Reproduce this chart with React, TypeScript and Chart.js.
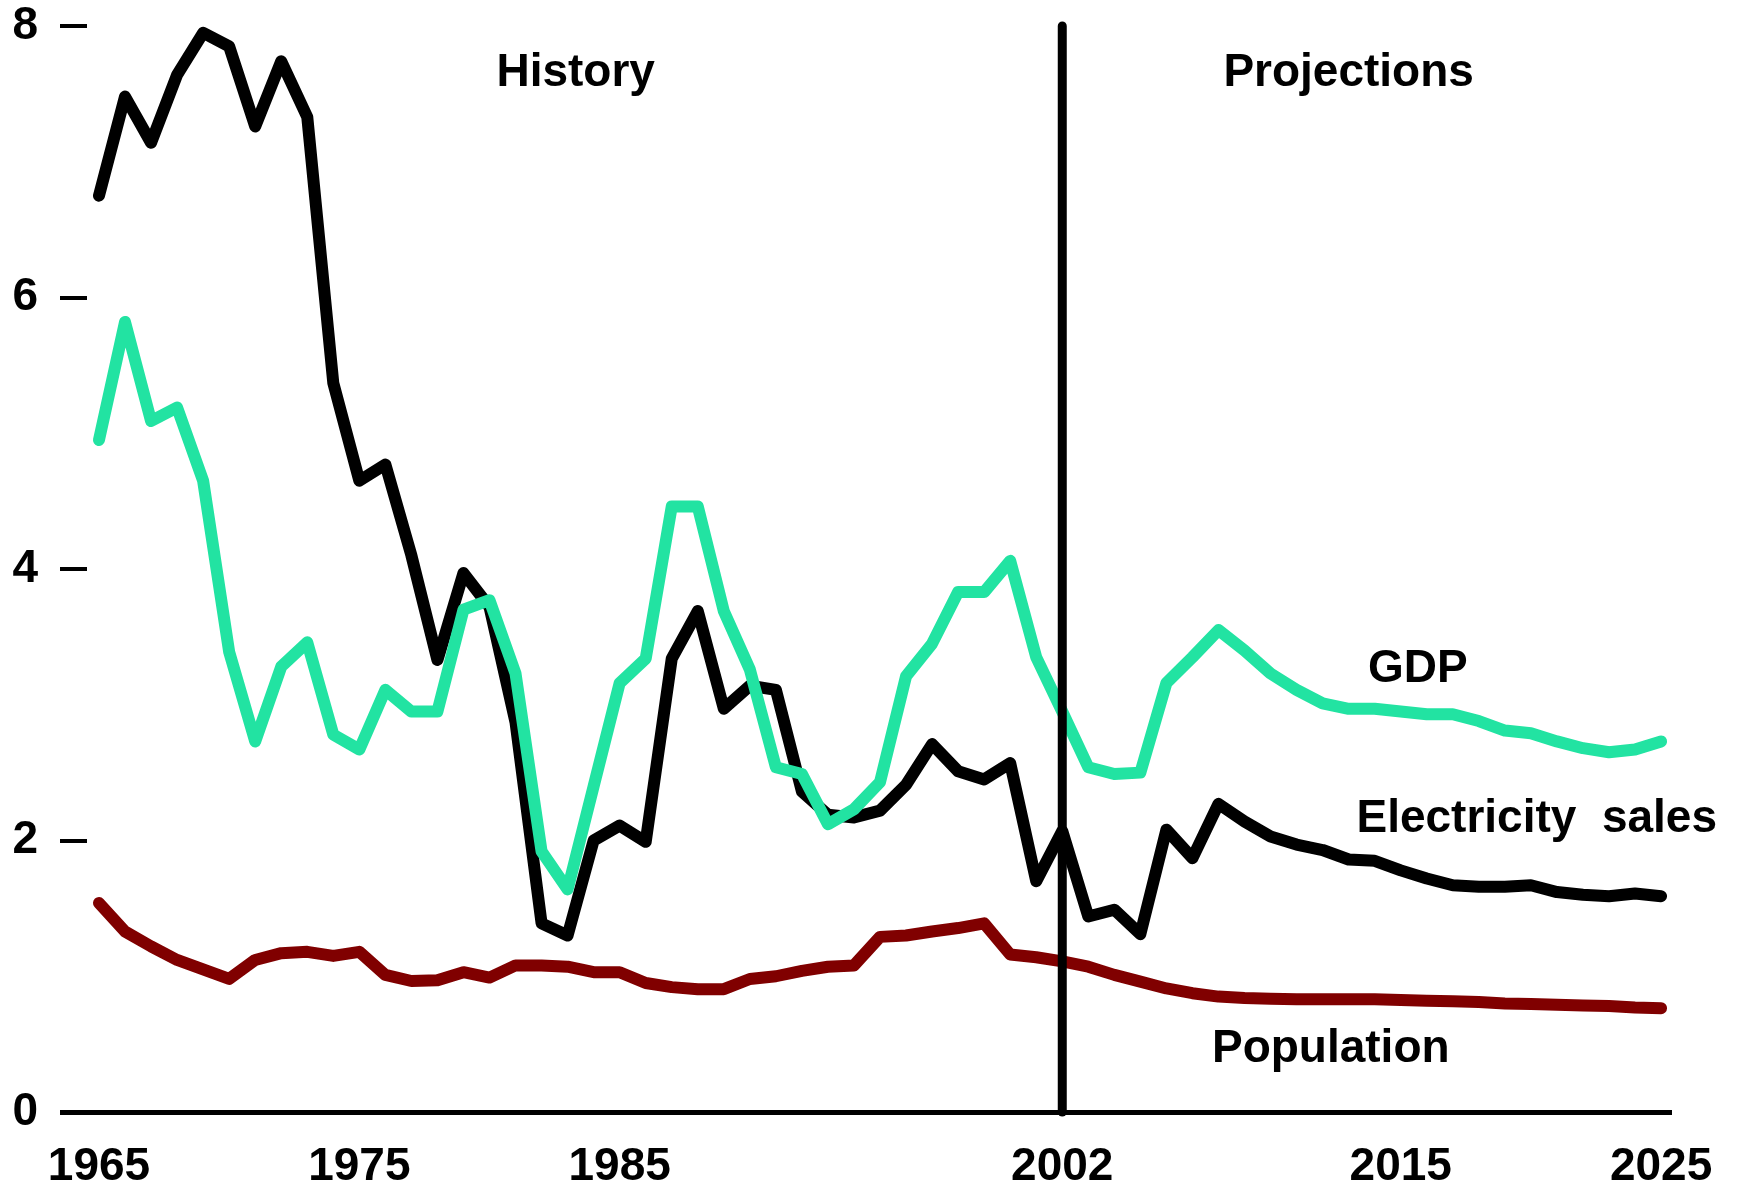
import React, { useEffect, useRef } from "react";
import { Chart, registerables } from "chart.js";

Chart.register(...registerables);

// ---- Data ----
const years = [
  1965, 1966, 1967, 1968, 1969, 1970, 1971, 1972, 1973, 1974,
  1975, 1976, 1977, 1978, 1979, 1980, 1981, 1982, 1983, 1984,
  1985, 1986, 1987, 1988, 1989, 1990, 1991, 1992, 1993, 1994,
  1995, 1996, 1997, 1998, 1999, 2000, 2001, 2002, 2003, 2004,
  2005, 2006, 2007, 2008, 2009, 2010, 2011, 2012, 2013, 2014,
  2015, 2016, 2017, 2018, 2019, 2020, 2021, 2022, 2023, 2024, 2025,
];

const electricitySales = [
  6.75, 7.48, 7.14, 7.64, 7.95, 7.85, 7.26, 7.74, 7.33, 5.37,
  4.65, 4.77, 4.1, 3.33, 3.97, 3.72, 2.87, 1.39, 1.3, 2.0,
  2.11, 1.99, 3.34, 3.69, 2.97, 3.14, 3.11, 2.36, 2.19, 2.17,
  2.22, 2.41, 2.71, 2.51, 2.45, 2.57, 1.7, 2.07, 1.44, 1.49,
  1.31, 2.08, 1.87, 2.27, 2.14, 2.03, 1.97, 1.93, 1.86, 1.85,
  1.78, 1.72, 1.67, 1.66, 1.66, 1.67, 1.62, 1.6, 1.59, 1.61, 1.59,
];

const gdp = [
  4.95, 5.82, 5.09, 5.19, 4.65, 3.39, 2.73, 3.28, 3.46, 2.78,
  2.67, 3.11, 2.95, 2.95, 3.7, 3.77, 3.23, 1.92, 1.64, 2.4,
  3.16, 3.34, 4.46, 4.46, 3.69, 3.26, 2.54, 2.49, 2.12, 2.23,
  2.43, 3.21, 3.45, 3.83, 3.83, 4.06, 3.35, 2.95, 2.54, 2.49,
  2.5, 3.16, 3.35, 3.55, 3.4, 3.23, 3.11, 3.01, 2.97, 2.97,
  2.95, 2.93, 2.93, 2.88, 2.81, 2.79, 2.73, 2.68, 2.65, 2.67, 2.73,
];

const population = [
  1.54, 1.33, 1.22, 1.12, 1.05, 0.98, 1.12, 1.17, 1.18, 1.15,
  1.18, 1.01, 0.965, 0.97, 1.03, 0.99, 1.08, 1.08, 1.07, 1.03,
  1.03, 0.95, 0.92, 0.905, 0.905, 0.98, 1.0, 1.04, 1.07, 1.08,
  1.29, 1.3, 1.33, 1.355, 1.39, 1.16, 1.14, 1.11, 1.07, 1.01,
  0.96, 0.91, 0.875, 0.85, 0.84, 0.835, 0.83, 0.83, 0.83, 0.83,
  0.825, 0.82, 0.815, 0.81, 0.8, 0.795, 0.79, 0.785, 0.78, 0.77, 0.765,
];

const xTickYears = [1965, 1975, 1985, 2002, 2015, 2025];
const yTickValues = [0, 2, 4, 6, 8];
const dividerYear = 2002;
const dividerRange = [0, 8];

// ---- Styling / layout ----
const FONT_FAMILY = '"Liberation Sans", Arial, sans-serif';
const FONT_SIZE = 46;
const GREEN = "#22E3A2";
const DARK_RED = "#800000";

const annotationLabels = [
  { text: "History", x: 1983.31, y: 7.56, align: "center" },
  { text: "Projections", x: 2013.0, y: 7.56, align: "center" },
  { text: "GDP", x: 2015.66, y: 3.17, align: "center" },
  { text: "Electricity  sales", x: 2013.3, y: 2.065, align: "left" },
  { text: "Population", x: 2007.75, y: 0.368, align: "left" },
];

const toPoints = (vals: number[]) => years.map((yr, i) => ({ x: yr, y: vals[i] }));

const textPlugin = {
  id: "textLabels",
  afterDatasetsDraw(chart: any) {
    const { ctx, scales } = chart;
    const xs = scales.x;
    const ys = scales.y;
    ctx.save();
    ctx.fillStyle = "#000";
    ctx.font = `bold ${FONT_SIZE}px ${FONT_FAMILY}`;
    ctx.textBaseline = "alphabetic";
    for (const a of annotationLabels) {
      ctx.textAlign = a.align as CanvasTextAlign;
      ctx.fillText(a.text, xs.getPixelForValue(a.x), ys.getPixelForValue(a.y));
    }
    ctx.restore();
  },
};

export default function App() {
  const canvasRef = useRef<HTMLCanvasElement | null>(null);

  useEffect(() => {
    if (!canvasRef.current) return;
    const lineCommon = {
      pointRadius: 0,
      pointHoverRadius: 0,
      tension: 0,
      borderJoinStyle: "round" as const,
      borderCapStyle: "round" as const,
      fill: false,
    };
    const chart = new Chart(canvasRef.current, {
      type: "line",
      data: {
        datasets: [
          {
            ...lineCommon,
            label: "divider",
            data: dividerRange.map((v) => ({ x: dividerYear, y: v })),
            borderColor: "#000",
            borderWidth: 9,
            order: 0,
            clip: false as any,
          },
          {
            ...lineCommon,
            label: "GDP",
            data: toPoints(gdp),
            borderColor: GREEN,
            borderWidth: 12,
            order: 1,
          },
          {
            ...lineCommon,
            label: "Electricity sales",
            data: toPoints(electricitySales),
            borderColor: "#000",
            borderWidth: 12,
            order: 2,
          },
          {
            ...lineCommon,
            label: "Population",
            data: toPoints(population),
            borderColor: DARK_RED,
            borderWidth: 12,
            order: 3,
          },
        ],
      },
      options: {
        animation: false,
        responsive: false,
        maintainAspectRatio: false,
        devicePixelRatio: 1,
        layout: { padding: { top: 26, right: 68, bottom: 0, left: 0 } },
        plugins: {
          legend: { display: false },
          tooltip: { enabled: false },
        },
        events: [],
        scales: {
          x: {
            type: "linear",
            min: 1964.54,
            max: 2025.42,
            afterBuildTicks: (s: any) => {
              s.ticks = xTickYears.map((v) => ({ value: v }));
            },
            afterFit: (s: any) => {
              s.height = 73;
              s.paddingLeft = 0;
              s.paddingRight = 0;
            },
            grid: { display: false, drawTicks: false },
            border: { display: false },
            ticks: {
              autoSkip: false,
              maxRotation: 0,
              minRotation: 0,
              padding: 28,
              color: "#000",
              font: { family: FONT_FAMILY, size: FONT_SIZE, weight: "bold" },
              callback: (v: any) => String(v),
            },
          },
          y: {
            type: "linear",
            min: 0,
            max: 8,
            afterBuildTicks: (s: any) => {
              s.ticks = yTickValues.map((v) => ({ value: v }));
            },
            afterFit: (s: any) => {
              s.width = 87;
              s.paddingTop = 0;
              s.paddingBottom = 0;
            },
            border: { display: false },
            grid: {
              drawOnChartArea: true,
              drawTicks: true,
              tickLength: 27,
              color: (c: any) => (c.tick && c.tick.value === 0 ? "#000" : "rgba(0,0,0,0)"),
              lineWidth: (c: any) => (c.tick && c.tick.value === 0 ? 5 : 4),
              tickColor: "#000",
              tickWidth: (c: any) => (c.tick && c.tick.value === 0 ? 5 : 4),
            },
            ticks: {
              padding: 22,
              color: "#000",
              font: { family: FONT_FAMILY, size: FONT_SIZE, weight: "bold" },
              callback: (v: any) => String(v),
            },
          },
        },
      },
      plugins: [textPlugin],
    } as any);
    return () => chart.destroy();
  }, []);

  return (
    <div style={{ position: "absolute", left: 0, top: 0, width: 1740, height: 1185, background: "#fff" }}>
      <canvas ref={canvasRef} width={1740} height={1185} style={{ display: "block" }} />
    </div>
  );
}
